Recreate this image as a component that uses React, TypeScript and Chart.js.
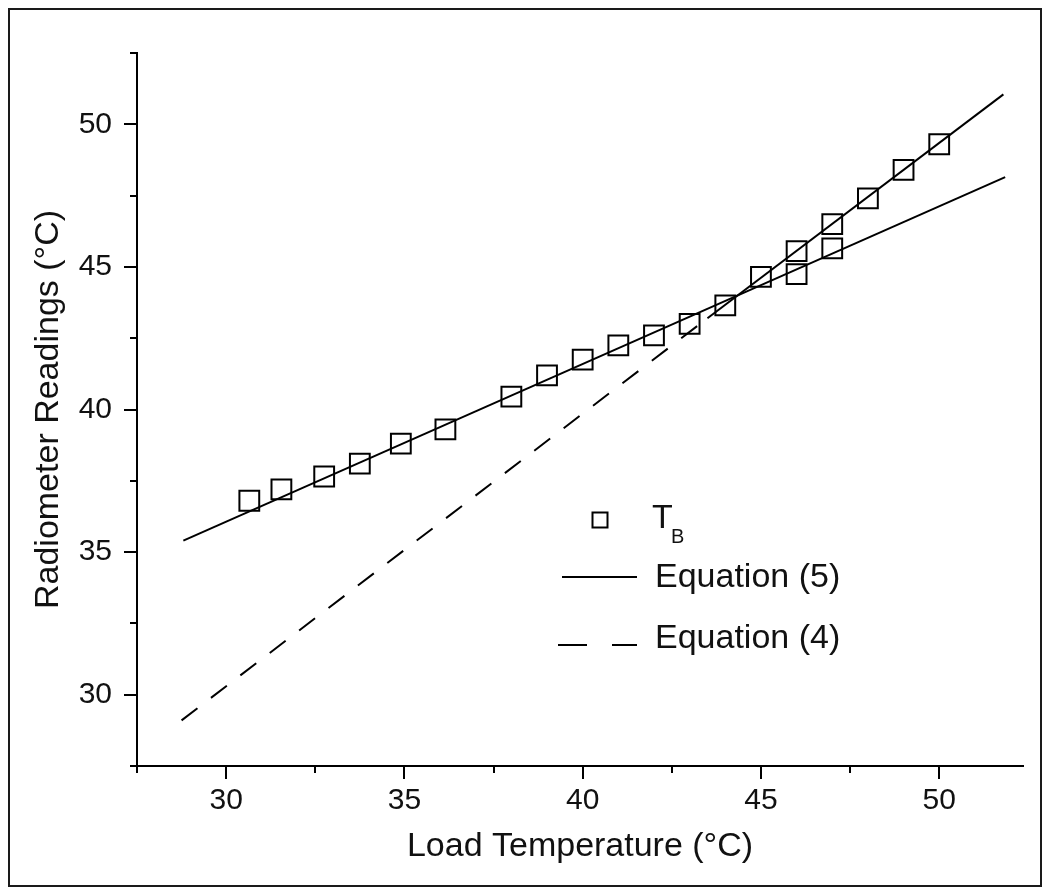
import React, { useEffect, useRef } from "react";
import { Chart, registerables } from "chart.js";

Chart.register(...registerables);

// ---- Data ----
const loadTemp = [30.65, 31.55, 32.75, 33.75, 34.9, 36.15, 38, 39, 40, 41, 42, 43, 44, 45, 46, 46, 47, 47, 48, 49, 50];
const radiometer = [36.8, 37.2, 37.65, 38.1, 38.8, 39.3, 40.45, 41.2, 41.75, 42.25, 42.6, 43.0, 43.65, 44.65, 44.75, 45.55, 45.65, 46.5, 47.4, 48.4, 49.3];

const eq5X = [28.8, 51.85];
const eq5Y = [35.4, 48.15];

const eq4X = [28.75, 43.5, 51.8];
const eq4Y = [29.1, 43.2, 51.05];

const xTickLabels = [30, 35, 40, 45, 50];
const yTickLabels = [30, 35, 40, 45, 50];

const FONT = '"Liberation Sans", Arial, sans-serif';
const TEXT = "#111";

const isLabelled = (v: number, list: number[]) => list.some((t) => Math.abs(t - v) < 1e-6);

const tickPlugin = {
  id: "customTicks",
  afterDraw(chart: any) {
    const ctx = chart.ctx as CanvasRenderingContext2D;
    const xs = chart.scales.x;
    const ys = chart.scales.y;
    ctx.save();
    ctx.strokeStyle = "#000";
    ctx.lineWidth = 2;
    ctx.lineCap = "butt";
    xs.ticks.forEach((t: any) => {
      const px = Math.round(xs.getPixelForValue(t.value));
      const len = isLabelled(t.value, xTickLabels) ? 13 : 7;
      ctx.beginPath();
      ctx.moveTo(px, xs.top);
      ctx.lineTo(px, xs.top + len);
      ctx.stroke();
    });
    ys.ticks.forEach((t: any) => {
      const py = Math.round(ys.getPixelForValue(t.value));
      const len = isLabelled(t.value, yTickLabels) ? 13 : 7;
      ctx.beginPath();
      ctx.moveTo(ys.right, py);
      ctx.lineTo(ys.right - len, py);
      ctx.stroke();
    });
    ctx.restore();
  },
};

const legendPlugin = {
  id: "customLegend",
  afterDraw(chart: any) {
    const ctx = chart.ctx as CanvasRenderingContext2D;
    ctx.save();
    ctx.fillStyle = TEXT;
    ctx.strokeStyle = "#000";
    ctx.textBaseline = "alphabetic";
    ctx.textAlign = "left";

    // Row 1: square marker + T_B
    ctx.lineWidth = 2;
    ctx.strokeRect(590 - 7.5, 510 - 7.5, 15, 15);
    ctx.font = `34px ${FONT}`;
    ctx.fillText("T", 642, 518);
    ctx.font = `20px ${FONT}`;
    ctx.fillText("B", 661, 533);

    // Row 2: solid line + Equation (5)
    ctx.lineWidth = 2;
    ctx.beginPath();
    ctx.moveTo(552, 567);
    ctx.lineTo(627, 567);
    ctx.stroke();
    ctx.font = `34px ${FONT}`;
    ctx.fillText("Equation (5)", 645, 577);

    // Row 3: dashed line + Equation (4)
    ctx.beginPath();
    ctx.moveTo(548, 635);
    ctx.lineTo(577, 635);
    ctx.moveTo(602, 635);
    ctx.lineTo(627, 635);
    ctx.stroke();
    ctx.fillText("Equation (4)", 645, 638);
    ctx.restore();
  },
};

export default function App() {
  const canvasRef = useRef<HTMLCanvasElement | null>(null);

  useEffect(() => {
    if (!canvasRef.current) return;
    const chart = new Chart(canvasRef.current, {
      type: "scatter",
      data: {
        datasets: [
          {
            type: "scatter",
            label: "T_B",
            data: loadTemp.map((x, i) => ({ x, y: radiometer[i] })),
            pointStyle: "rect",
            pointRadius: 14,
            pointHoverRadius: 14,
            borderWidth: 2,
            borderColor: "#000",
            backgroundColor: "rgba(0,0,0,0)",
            showLine: false,
          } as any,
          {
            type: "line",
            label: "Equation (5)",
            data: eq5X.map((x, i) => ({ x, y: eq5Y[i] })),
            borderColor: "#000",
            borderWidth: 2,
            pointRadius: 0,
            fill: false,
            tension: 0,
          } as any,
          {
            type: "line",
            label: "Equation (4)",
            data: eq4X.map((x, i) => ({ x, y: eq4Y[i] })),
            borderColor: "#000",
            borderWidth: 2,
            pointRadius: 0,
            fill: false,
            tension: 0,
            segment: {
              borderDash: (c: any) => (c.p0DataIndex === 0 ? [20, 17] : []),
            },
          } as any,
        ],
      },
      options: {
        responsive: false,
        animation: false,
        events: [],
        layout: { padding: { left: 0, top: 33, right: 17, bottom: 0 } },
        plugins: {
          legend: { display: false },
          tooltip: { enabled: false },
        },
        scales: {
          x: {
            type: "linear",
            position: "bottom",
            min: 27.5,
            max: 52.35,
            ticks: {
              stepSize: 2.5,
              includeBounds: false,
              autoSkip: false,
              maxRotation: 0,
              padding: 17,
              color: TEXT,
              font: { family: FONT, size: 30 },
              callback: (v: any) => (isLabelled(Number(v), xTickLabels) ? String(v) : ""),
            },
            grid: { display: false, drawTicks: false },
            border: { display: true, color: "#000", width: 2 },
            title: {
              display: true,
              text: "Load Temperature (°C)",
              color: TEXT,
              font: { family: FONT, size: 34 },
              padding: { top: 0, bottom: 18 },
            },
            afterFit: (s: any) => {
              s.height = 119;
            },
          },
          y: {
            type: "linear",
            min: 27.5,
            max: 52.5,
            ticks: {
              stepSize: 2.5,
              autoSkip: false,
              padding: 25,
              color: TEXT,
              font: { family: FONT, size: 30 },
              callback: (v: any) => (isLabelled(Number(v), yTickLabels) ? String(v) : ""),
            },
            grid: { display: false, drawTicks: false },
            border: { display: true, color: "#000", width: 2 },
            title: {
              display: true,
              text: "Radiometer Readings (°C)",
              color: TEXT,
              font: { family: FONT, size: 34 },
              padding: { top: 18, bottom: 0 },
            },
            afterFit: (s: any) => {
              s.width = 127;
            },
          },
        },
      } as any,
      plugins: [tickPlugin, legendPlugin],
    });
    return () => chart.destroy();
  }, []);

  return (
    <div
      style={{
        position: "absolute",
        left: 8,
        top: 8,
        width: 1030,
        height: 875,
        border: "2px solid #1a1a1a",
        background: "#fff",
      }}
    >
      <canvas ref={canvasRef} width={1030} height={875} style={{ display: "block", width: 1030, height: 875 }} />
    </div>
  );
}
